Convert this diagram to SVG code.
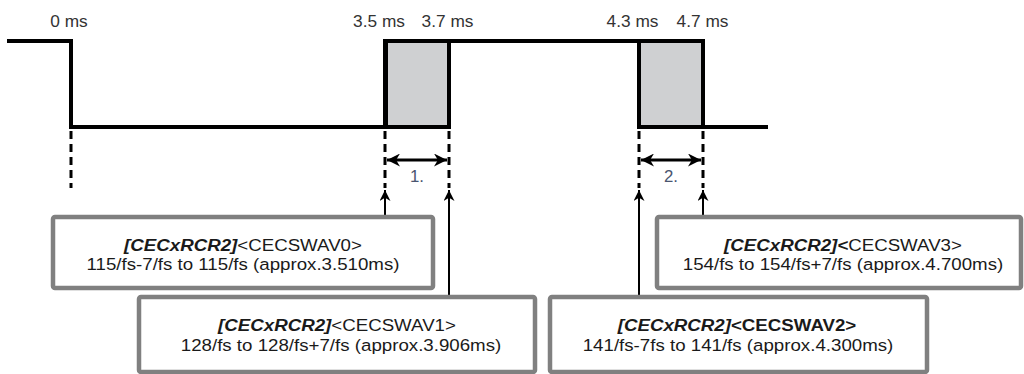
<svg xmlns="http://www.w3.org/2000/svg" width="1024" height="374" viewBox="0 0 1024 374">
  <defs>
    <style>
      text { font-family: "Liberation Sans", Arial, sans-serif; fill: #1a1a1a; }
      .lbl { font-size: 16px; fill: #333333; }
      .num { font-size: 16px; fill: #4a5570; }
      .bt { font-size: 17px; }
      .bi { font-weight: bold; font-style: italic; }
      .b { font-weight: bold; }
      .wave { fill: none; stroke: #000; stroke-width: 4; stroke-linejoin: miter; stroke-linecap: square; }
      .win { fill: #cfd0d2; stroke: #000; stroke-width: 4; }
      .dash { stroke: #000; stroke-width: 3; stroke-dasharray: 8 5; fill: none; }
      .box { fill: #fff; stroke: #808080; stroke-width: 4.5; }
      .arr { stroke: #000; stroke-width: 2; fill: none; }
      .dim { stroke: #000; stroke-width: 3; fill: none; }
    </style>
    <marker id="up" viewBox="0 0 10 10" refX="10" refY="5" markerWidth="15" markerHeight="11" markerUnits="userSpaceOnUse" orient="auto">
      <path d="M0,0 L10,5 L0,10 L3,5 Z" fill="#000"/>
    </marker>
    <marker id="dh" viewBox="0 0 10 10" refX="10" refY="5" markerWidth="14" markerHeight="13" markerUnits="userSpaceOnUse" orient="auto-start-reverse">
      <path d="M0,0 L10,5 L0,10 L3,5 Z" fill="#000"/>
    </marker>
  </defs>

  <!-- time labels -->
  <g id="labels">
    <text class="lbl" text-anchor="middle" transform="translate(69,27) scale(1.08,1)">0 ms</text>
    <text class="lbl" text-anchor="middle" transform="translate(379,27) scale(1.08,1)">3.5 ms</text>
    <text class="lbl" text-anchor="middle" transform="translate(447.5,27) scale(1.08,1)">3.7 ms</text>
    <text class="lbl" text-anchor="middle" transform="translate(632.5,27) scale(1.08,1)">4.3 ms</text>
    <text class="lbl" text-anchor="middle" transform="translate(702.5,27) scale(1.08,1)">4.7 ms</text>
  </g>

  <!-- waveform -->
  <g id="waveform">
    <rect class="win" x="385" y="41" width="64" height="86"/>
    <rect class="win" x="639" y="41" width="64" height="86"/>
    <path class="wave" d="M9,41 H71 V127 H385 V41 H703 V127 H766"/>
    <path class="wave" d="M386,41 V127" stroke-width="5"/>
  </g>

  <!-- connectors -->
  <g id="connectors">
    <path class="dash" d="M71,131 V188"/>
    <path class="dash" d="M385,131 V188"/>
    <path class="dash" d="M449,131 V188"/>
    <path class="dash" d="M639,131 V188"/>
    <path class="dash" d="M703,131 V188"/>
    <line class="dim" x1="387" y1="160" x2="447" y2="160" marker-start="url(#dh)" marker-end="url(#dh)"/>
    <line class="dim" x1="641" y1="160" x2="701" y2="160" marker-start="url(#dh)" marker-end="url(#dh)"/>
    <text class="num" text-anchor="middle" transform="translate(417,182) scale(1.05,1)">1.</text>
    <text class="num" text-anchor="middle" transform="translate(671,182) scale(1.05,1)">2.</text>
    <line class="arr" x1="385" y1="215" x2="385" y2="190" marker-end="url(#up)"/>
    <line class="arr" x1="449" y1="295" x2="449" y2="190" marker-end="url(#up)"/>
    <line class="arr" x1="639" y1="295" x2="639" y2="190" marker-end="url(#up)"/>
    <line class="arr" x1="703" y1="215" x2="703" y2="190" marker-end="url(#up)"/>
  </g>

  <g id="box0">
    <rect class="box" x="53" y="217" width="380" height="71" rx="2"/>
    <text class="bt" text-anchor="middle" transform="translate(243,251) scale(1.1,1)"><tspan class="bi">[CECxRCR2]</tspan>&lt;CECSWAV0&gt;</text>
    <text class="bt" text-anchor="middle" transform="translate(243,270) scale(1.1,1)">115/fs-7/fs to 115/fs (approx.3.510ms)</text>
  </g>

  <g id="box1">
    <rect class="box" x="139" y="297" width="396" height="75" rx="2"/>
    <text class="bt" text-anchor="middle" transform="translate(337,331) scale(1.1,1)"><tspan class="bi">[CECxRCR2]</tspan>&lt;CECSWAV1&gt;</text>
    <text class="bt" text-anchor="middle" transform="translate(341,351) scale(1.1,1)">128/fs to 128/fs+7/fs (approx.3.906ms)</text>
  </g>

  <g id="box2">
    <rect class="box" x="550" y="297" width="377" height="75" rx="2"/>
    <text class="bt" text-anchor="middle" transform="translate(737,331) scale(1.1,1)"><tspan class="bi">[CECxRCR2]</tspan><tspan class="b">&lt;CECSWAV2&gt;</tspan></text>
    <text class="bt" text-anchor="middle" transform="translate(738,351) scale(1.1,1)">141/fs-7fs to 141/fs (approx.4.300ms)</text>
  </g>

  <g id="box3">
    <rect class="box" x="657" y="217" width="364" height="71" rx="2"/>
    <text class="bt" text-anchor="middle" transform="translate(843,251) scale(1.1,1)"><tspan class="bi">[CECxRCR2]&lt;</tspan>CECSWAV3&gt;</text>
    <text class="bt" text-anchor="middle" transform="translate(843,270) scale(1.1,1)">154/fs to 154/fs+7/fs (approx.4.700ms)</text>
  </g>
</svg>
